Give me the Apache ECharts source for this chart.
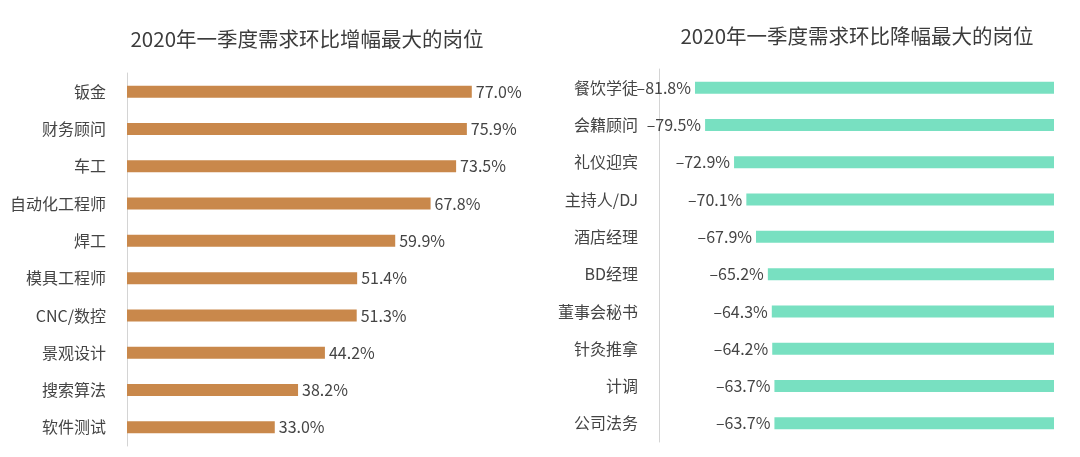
<!DOCTYPE html>
<html>
<head>
<meta charset="utf-8">
<script src="https://cdn.jsdelivr.net/npm/echarts@6/dist/echarts.min.js"></script>
<style>
html,body{margin:0;padding:0;background:#fff;}
#c{width:1080px;height:457px;}
</style>
</head>
<body>
<div id="c"></div>
<script>
const leftTitle = '2020年一季度需求环比增幅最大的岗位';
const rightTitle = '2020年一季度需求环比降幅最大的岗位';
const upCategories = ['钣金','财务顾问','车工','自动化工程师','焊工','模具工程师','CNC/数控','景观设计','搜索算法','软件测试'];
const upValues = [77.0,75.9,73.5,67.8,59.9,51.4,51.3,44.2,38.2,33.0];
const downCategories = ['餐饮学徒','会籍顾问','礼仪迎宾','主持人/DJ','酒店经理','BD经理','董事会秘书','针灸推拿','计调','公司法务'];
const downValues = [-81.8,-79.5,-72.9,-70.1,-67.9,-65.2,-64.3,-64.2,-63.7,-63.7];

const font = '"PingFang SC","Noto Sans CJK SC","Helvetica Neue",sans-serif';
const chart = echarts.init(document.getElementById('c'));
chart.setOption({
  backgroundColor: '#ffffff',
  animation: false,
  title: [
    {text: leftTitle, left: 302, top: 24, textAlign: 'center',
     textStyle: {fontFamily: font, fontSize: 20.5, fontWeight: 'normal', color: '#3c3c3c'}},
    {text: rightTitle, left: 852, top: 21, textAlign: 'center',
     textStyle: {fontFamily: font, fontSize: 20.5, fontWeight: 'normal', color: '#3c3c3c'}}
  ],
  grid: [
    {left: 127, top: 73, width: 403, height: 373},
    {left: 659, top: 69, width: 395, height: 373}
  ],
  xAxis: [
    {gridIndex: 0, type: 'value', min: 0, max: 90, show: false},
    {gridIndex: 1, type: 'value', min: -90, max: 0, show: false}
  ],
  yAxis: [
    {gridIndex: 0, type: 'category', data: upCategories, inverse: true,
     axisLine: {onZero: false, lineStyle: {color: '#d4d4d4', width: 1}},
     axisTick: {show: false},
     axisLabel: {margin: 21, fontFamily: font, fontSize: 16, color: '#444'}},
    {gridIndex: 1, type: 'category', data: downCategories, inverse: true, position: 'left',
     axisLine: {onZero: false, lineStyle: {color: '#d4d4d4', width: 1}},
     axisTick: {show: false},
     axisLabel: {margin: 21, fontFamily: font, fontSize: 16, color: '#444'}}
  ],
  series: [
    {type: 'bar', xAxisIndex: 0, yAxisIndex: 0, data: upValues, barWidth: 12,
     itemStyle: {color: '#C9884B'},
     label: {show: true, position: 'right', distance: 4, fontFamily: font, fontSize: 16, color: '#444',
       formatter: p => p.value.toFixed(1) + '%'}},
    {type: 'bar', xAxisIndex: 1, yAxisIndex: 1, data: downValues, barWidth: 12,
     itemStyle: {color: '#78E0C1'},
     label: {show: true, position: 'left', distance: 4, fontFamily: font, fontSize: 16, color: '#444',
       formatter: p => '\u2013' + Math.abs(p.value).toFixed(1) + '%'}}
  ]
});
</script>
</body>
</html>
